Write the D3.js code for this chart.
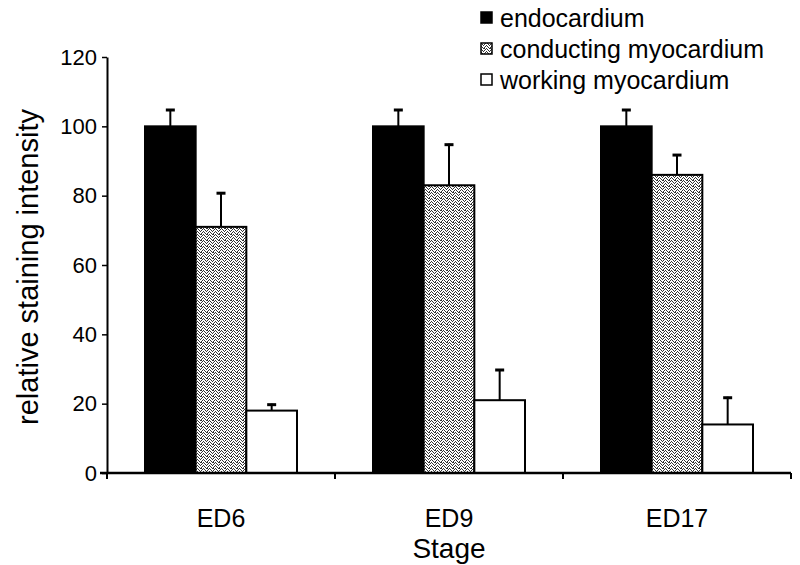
<!DOCTYPE html>
<html>
<head>
<meta charset="utf-8">
<script src="https://cdn.jsdelivr.net/npm/d3@7"></script>
<style>
  html, body { margin: 0; padding: 0; background: #fff; }
  svg { display: block; font-family: "Liberation Sans", Arial, Helvetica, sans-serif; }
</style>
</head>
<body>
<svg id="chart" width="800" height="565"></svg>
<script>
const stages = ["ED6", "ED9", "ED17"];
const seriesNames = ["endocardium", "conducting myocardium", "working myocardium"];
const endocardium = [100, 100, 100];
const conducting = [71, 83, 86];
const working = [18, 21, 14];
const endocardiumErr = [5, 5, 5];
const conductingErr = [10, 12, 6];
const workingErr = [2, 9, 8];
const yTicks = [0, 20, 40, 60, 80, 100, 120];

const values = [endocardium, conducting, working];
const errs = [endocardiumErr, conductingErr, workingErr];

const svg = d3.select("#chart");
const defs = svg.append("defs");
const pat = defs.append("pattern").attr("id", "dots")
  .attr("patternUnits", "userSpaceOnUse").attr("width", 6).attr("height", 6);
pat.append("rect").attr("width", 6).attr("height", 6).attr("fill", "#fff");
[[0,0],[3,0],[4,0],[1,1],[5,1],[2,2],[4,2],[0,3],[3,3],[1,4],[5,4],[2,5],[4,5]].forEach(([x,y]) =>
  pat.append("rect").attr("x", x).attr("y", y).attr("width", 1).attr("height", 1).attr("fill", "#333"));

const fills = ["#000", "url(#dots)", "#fff"];

const x0 = 107, x1 = 791, yBase = 473, yTop = 57;
const x = d3.scaleBand().domain(stages).range([x0, x1]).paddingInner(0).paddingOuter(0);
const xs = d3.scaleBand().domain(d3.range(3)).range([0, x.bandwidth()]).paddingInner(0).paddingOuter(0.75);
const y = d3.scaleLinear().domain([0, 120]).range([yBase, yTop]);

// bars
stages.forEach((s, i) => {
  const g = svg.append("g").attr("transform", `translate(${x(s)},0)`);
  values.forEach((arr, k) => {
    g.append("rect")
      .attr("x", xs(k)).attr("width", xs.bandwidth())
      .attr("y", y(arr[i])).attr("height", yBase - y(arr[i]))
      .attr("fill", fills[k]).attr("stroke", "#000").attr("stroke-width", 2);
  });
  // error bars
  values.forEach((arr, k) => {
    const cx = xs(k) + xs.bandwidth() / 2;
    const top = y(arr[i] + errs[k][i]);
    g.append("line").attr("x1", cx).attr("x2", cx)
      .attr("y1", y(arr[i])).attr("y2", top)
      .attr("stroke", "#000").attr("stroke-width", 2);
    g.append("line").attr("x1", cx - 4.5).attr("x2", cx + 4.5)
      .attr("y1", top + 1).attr("y2", top + 1)
      .attr("stroke", "#000").attr("stroke-width", 3);
  });
});

// y axis
const yAxis = d3.axisLeft(y).tickValues(yTicks).tickSize(5).tickPadding(5).tickSizeOuter(0);
const ya = svg.append("g").attr("transform", `translate(${x0},0)`).call(yAxis);
ya.select(".domain").attr("stroke", "#000").attr("stroke-width", 2);
ya.selectAll(".tick line").attr("stroke", "#000").attr("stroke-width", 1.5);
ya.selectAll(".tick text").attr("font-size", 22).attr("fill", "#000")
  .attr("font-family", "Liberation Sans, Arial, sans-serif");

// x axis
const xa = svg.append("g").attr("transform", `translate(0,${yBase})`);
xa.append("line").attr("x1", x0 - 7).attr("x2", x1).attr("y1", 0).attr("y2", 0)
  .attr("stroke", "#000").attr("stroke-width", 2.5);
const bounds = stages.map(s => x(s)).concat([x1]);
xa.selectAll("line.tk").data(bounds).enter().append("line").attr("class", "tk")
  .attr("x1", d => d).attr("x2", d => d).attr("y1", 0).attr("y2", 6)
  .attr("stroke", "#000").attr("stroke-width", 2);
xa.selectAll("text.cat").data(stages).enter().append("text").attr("class", "cat")
  .attr("x", d => x(d) + x.bandwidth() / 2).attr("y", 54)
  .attr("text-anchor", "middle").attr("font-size", 25).attr("fill", "#000")
  .text(d => d);

// axis titles
svg.append("text").attr("x", 449).attr("y", 558).attr("text-anchor", "middle")
  .attr("font-size", 28).attr("fill", "#000").text("Stage");
svg.append("text").attr("transform", "translate(38,267) rotate(-90)")
  .attr("text-anchor", "middle").attr("font-size", 29).attr("fill", "#000")
  .text("relative staining intensity");

// legend
const leg = svg.append("g");
seriesNames.forEach((n, k) => {
  const ly = 27 + k * 31;
  leg.append("rect").attr("x", 481).attr("y", ly - 15).attr("width", 11).attr("height", 11)
    .attr("fill", fills[k]).attr("stroke", "#000").attr("stroke-width", 1.5);
  leg.append("text").attr("x", 500).attr("y", ly).attr("font-size", 25)
    .attr("fill", "#000").text(n);
});
</script>
</body>
</html>
